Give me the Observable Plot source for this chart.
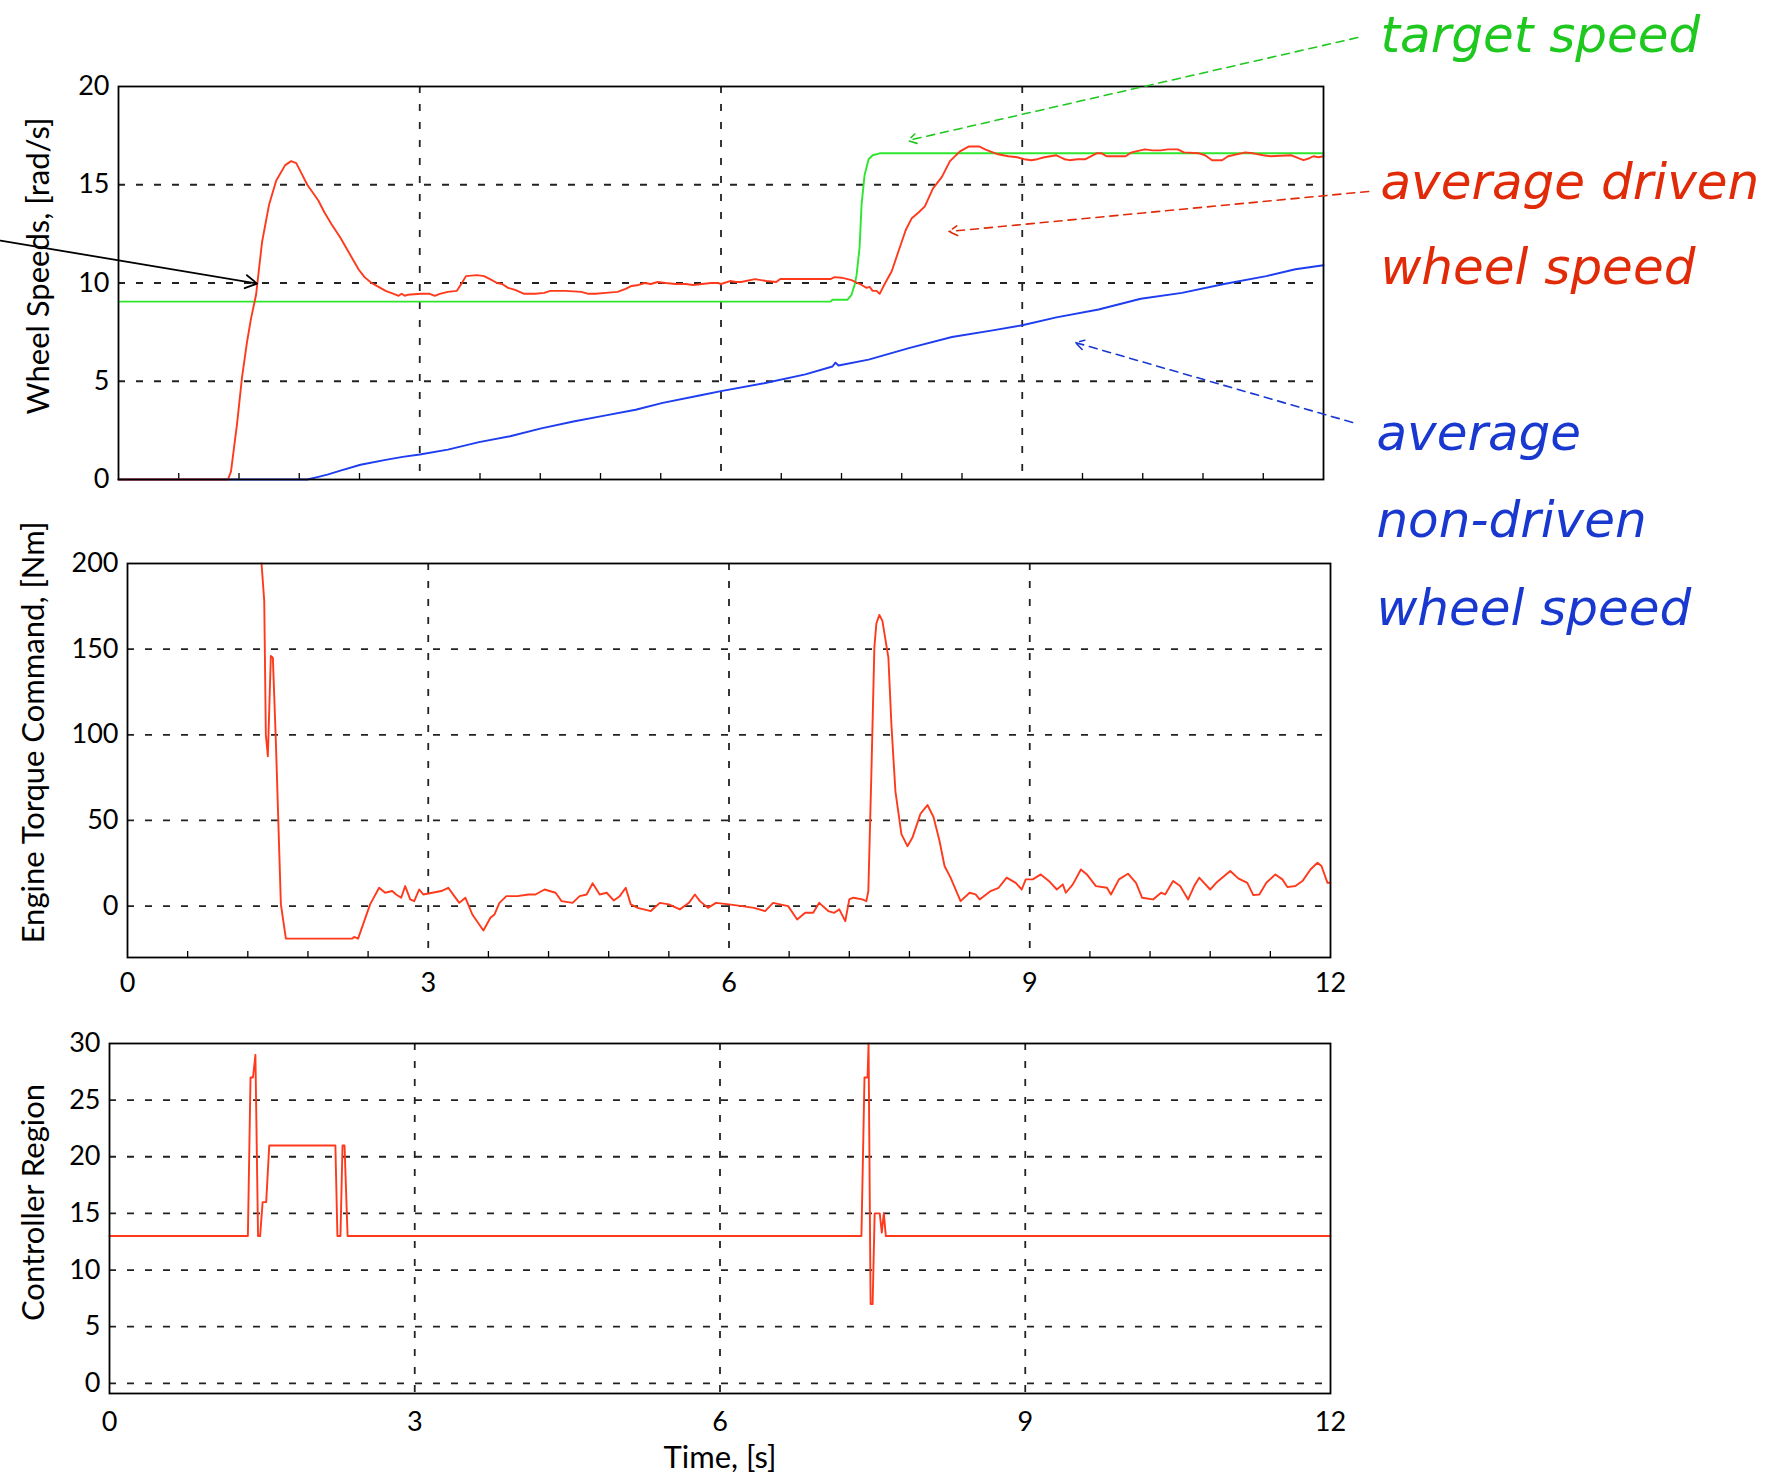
<!DOCTYPE html>
<html><head><meta charset="utf-8">
<script src="https://cdn.jsdelivr.net/npm/d3@7"></script>
<script src="https://cdn.jsdelivr.net/npm/@observablehq/plot@0.6"></script>
<style>
body{margin:0;background:#fff;}
#chart{position:relative;width:1766px;height:1476px;background:#fff;overflow:hidden;}
#chart svg{position:absolute;left:0;}
</style></head><body><div id="chart"></div>
<script>
// ---------- data (time [s], value) ----------
const targetSpeed = [[0,9.05],[7.09,9.05],[7.11,9.15],[7.26,9.15],[7.3,9.4],[7.33,9.9],[7.35,10.4],[7.38,11.8],[7.4,14.0],[7.43,15.5],[7.47,16.3],[7.51,16.5],[7.58,16.6],[12,16.6]];

const drivenSpeed = [[0,0],[1.09,0],[1.12,0.4],[1.18,2.8],[1.23,5.2],[1.28,7.0],[1.32,8.2],[1.37,9.4],[1.43,12.1],[1.50,14.0],[1.57,15.2],[1.66,16.0],[1.72,16.2],[1.77,16.1],[1.83,15.5],[1.88,15.0],[1.99,14.2],[2.05,13.6],[2.12,13.0],[2.21,12.3],[2.30,11.5],[2.39,10.7],[2.45,10.3],[2.52,10.0],[2.59,9.8],[2.66,9.6],[2.74,9.45],[2.79,9.35],[2.82,9.45],[2.85,9.35],[2.88,9.4],[3.01,9.45],[3.10,9.45],[3.15,9.35],[3.2,9.45],[3.28,9.55],[3.37,9.6],[3.42,10.0],[3.46,10.35],[3.57,10.4],[3.64,10.35],[3.70,10.2],[3.77,10.0],[3.82,9.95],[3.88,9.75],[3.95,9.65],[4.04,9.45],[4.15,9.45],[4.24,9.5],[4.30,9.6],[4.45,9.6],[4.61,9.55],[4.68,9.45],[4.75,9.45],[4.85,9.5],[4.97,9.55],[5.05,9.7],[5.11,9.85],[5.18,9.9],[5.24,10.0],[5.3,9.95],[5.37,10.05],[5.45,10.0],[5.55,9.95],[5.65,9.95],[5.72,9.9],[5.81,9.95],[5.9,10.0],[5.97,10.0],[6.0,9.95],[6.09,10.1],[6.15,10.05],[6.2,10.05],[6.34,10.2],[6.45,10.1],[6.55,10.05],[6.59,10.2],[6.8,10.2],[7.09,10.2],[7.13,10.3],[7.2,10.27],[7.3,10.15],[7.36,10.0],[7.4,9.9],[7.45,9.75],[7.48,9.8],[7.51,9.6],[7.55,9.6],[7.58,9.45],[7.63,9.95],[7.7,10.6],[7.76,11.5],[7.84,12.7],[7.9,13.3],[7.97,13.6],[8.03,13.9],[8.11,14.8],[8.2,15.4],[8.28,16.2],[8.38,16.7],[8.47,16.95],[8.57,16.95],[8.63,16.8],[8.68,16.7],[8.76,16.55],[8.86,16.45],[8.95,16.4],[9.02,16.3],[9.09,16.25],[9.15,16.3],[9.22,16.4],[9.34,16.5],[9.38,16.4],[9.42,16.3],[9.47,16.25],[9.55,16.3],[9.63,16.3],[9.74,16.6],[9.79,16.6],[9.84,16.45],[10.03,16.45],[10.09,16.65],[10.22,16.8],[10.3,16.75],[10.38,16.75],[10.45,16.8],[10.55,16.8],[10.61,16.65],[10.76,16.6],[10.82,16.5],[10.89,16.25],[10.99,16.25],[11.05,16.45],[11.18,16.6],[11.22,16.65],[11.3,16.6],[11.4,16.5],[11.47,16.45],[11.68,16.5],[11.75,16.35],[11.8,16.25],[11.86,16.35],[11.9,16.45],[11.95,16.4],[12.0,16.45]];

const nonDrivenSpeed = [[0,0],[1.88,0],[1.98,0.12],[2.08,0.25],[2.21,0.45],[2.41,0.75],[2.66,1.0],[2.83,1.15],[3.0,1.27],[3.28,1.52],[3.59,1.9],[3.9,2.2],[4.21,2.6],[4.53,2.95],[4.84,3.25],[5.15,3.55],[5.42,3.9],[5.81,4.3],[6.0,4.5],[6.43,4.9],[6.84,5.35],[7.11,5.75],[7.14,5.95],[7.17,5.8],[7.47,6.1],[7.88,6.7],[8.3,7.25],[8.72,7.6],[9.0,7.85],[9.34,8.25],[9.76,8.65],[10.18,9.2],[10.59,9.5],[11.01,9.95],[11.43,10.35],[11.72,10.7],[12.0,10.9]];

const torqueCommand = [[1.337,200],[1.364,178],[1.38,100],[1.40,87.5],[1.43,146],[1.45,145],[1.48,96],[1.53,1],[1.58,-19],[2.24,-19],[2.26,-18],[2.3,-19],[2.35,-10.7],[2.42,1],[2.51,10.7],[2.57,7.8],[2.64,8.8],[2.68,6.8],[2.73,4.9],[2.77,11.7],[2.82,3.9],[2.86,2.9],[2.91,9.7],[2.95,6.8],[3.04,7.8],[3.13,8.8],[3.2,10.7],[3.26,5.8],[3.31,1.9],[3.37,4.9],[3.44,-4.9],[3.55,-14.2],[3.62,-6.8],[3.66,-4.9],[3.71,1.9],[3.78,5.8],[3.89,5.8],[4.0,6.8],[4.07,6.8],[4.16,9.7],[4.27,7.8],[4.33,2.9],[4.44,1.9],[4.51,5.8],[4.58,6.8],[4.64,13.3],[4.71,6.8],[4.78,7.8],[4.85,3.3],[4.91,5.8],[4.97,10.7],[5.02,1],[5.09,-1],[5.22,-2.9],[5.31,1.9],[5.4,1],[5.51,-1.9],[5.6,1.9],[5.66,6.8],[5.71,2.9],[5.79,-1],[5.87,1.9],[6.0,1],[6.13,0],[6.25,-1],[6.36,-2.9],[6.44,1.9],[6.59,0],[6.68,-7.8],[6.76,-3.9],[6.84,-3.9],[6.9,1.9],[6.99,-2.9],[7.05,-3.9],[7.1,-1.9],[7.16,-8.8],[7.2,3.9],[7.24,4.9],[7.33,3.9],[7.37,2.9],[7.39,8.8],[7.42,77],[7.45,151],[7.47,165],[7.5,170],[7.53,166.5],[7.59,145],[7.62,106],[7.66,67],[7.72,42],[7.78,35],[7.83,40],[7.91,53.9],[7.98,59],[8.04,52],[8.1,38],[8.15,23.4],[8.21,16.6],[8.31,2.9],[8.4,7.8],[8.46,6.8],[8.5,3.9],[8.61,8.8],[8.69,10.7],[8.77,16.6],[8.86,13.6],[8.92,9.7],[8.96,15.6],[9.03,15.6],[9.11,18.5],[9.2,14.2],[9.27,9.7],[9.33,12.7],[9.36,7.8],[9.43,12.7],[9.51,21.4],[9.57,18.5],[9.66,11.7],[9.77,10.7],[9.81,6.8],[9.89,15.6],[9.98,18.9],[10.06,13.6],[10.12,4.9],[10.23,3.9],[10.31,7.8],[10.35,6.8],[10.43,14.6],[10.5,11.7],[10.58,3.9],[10.64,11.7],[10.69,16.6],[10.8,9.7],[10.86,13.6],[11.0,20.5],[11.08,16.2],[11.17,13.6],[11.23,6.4],[11.29,6.8],[11.36,13.6],[11.45,18.5],[11.52,15.6],[11.57,11.1],[11.65,11.7],[11.72,14.6],[11.8,21.4],[11.87,25.3],[11.91,23.4],[11.97,13.6],[12.0,13.6]];

const controllerRegion = [[0,13],[1.36,13],[1.386,27],[1.41,27],[1.434,29],[1.46,13],[1.48,13],[1.505,16],[1.54,16],[1.57,21],[2.22,21],[2.24,13],[2.27,13],[2.29,21],[2.31,21],[2.34,13],[7.39,13],[7.42,27],[7.45,27],[7.46,30],[7.48,7],[7.5,7],[7.52,15],[7.57,15],[7.59,13.3],[7.61,15],[7.63,13],[12,13]];

// ticks and labels
const xTicks = [0,3,6,9,12];
const xGrid = [3,6,9];
const xMinor = [0.6,1.2,1.8,2.4,3.6,4.2,4.8,5.4,6.6,7.2,7.8,8.4,9.6,10.2,10.8,11.4];
const speedTicks = [0,5,10,15,20];
const speedGrid = [5,10,15];
const torqueTicks = [0,50,100,150,200];
const torqueGrid = [0,50,100,150];
const regionTicks = [0,5,10,15,20,25,30];
const regionGrid = [0,5,10,15,20,25];
const labels = {speed:"Wheel Speeds, [rad/s]", torque:"Engine Torque Command, [Nm]", region:"Controller Region", time:"Time, [s]"};

// annotations in the speed panel's data coordinates
const GREEN = "#1ec81e", RED = "#e02a08", BLUE = "#1838d0";
const notes = [
  {t:12.567, v:21.78, text:"target speed", color:GREEN},
  {t:12.567, v:14.25, text:"average driven", color:RED},
  {t:12.567, v:9.97, text:"wheel speed", color:RED},
  {t:12.527, v:1.48, text:"average", color:BLUE},
  {t:12.527, v:-2.95, text:"non-driven", color:BLUE},
  {t:12.527, v:-7.38, text:"wheel speed", color:BLUE}
];
const dashedArrows = [
  {t1:12.34, v1:22.49, t2:7.86, v2:17.25, color:GREEN},
  {t1:12.45, v1:14.66, t2:8.27, v2:12.62, color:RED},
  {t1:12.29, v1:2.9, t2:9.53, v2:6.97, color:BLUE}
];
const pointerArrow = [{t1:-1.175, v1:12.16, t2:1.38, v2:9.97}];

// ---------- drawing ----------
const LINE_RED = "#ff3a1c", LINE_GREEN = "#2ee62e", LINE_BLUE = "#1e3cf0";
const FONT = "Lato, 'Open Sans', sans-serif";
const gridStyle = {stroke:"#222", strokeOpacity:1, strokeWidth:1.8, strokeDasharray:"7,11"};
const svgStyle = {background:"transparent", overflow:"visible", fontFamily:FONT, color:"black"};
const X = d => d[0], Y = d => d[1];
const TICK_FS = 27, LABEL_FS = 31, LW = 1.9;

const speedPlot = Plot.plot({
  width:1766, height:660, marginLeft:118, marginRight:443, marginTop:86, marginBottom:181,
  style: svgStyle,
  x:{domain:[0,12], axis:null}, y:{domain:[0,20], axis:null}, color:{type:"identity"},
  marks:[
    Plot.gridX(xGrid, gridStyle),
    Plot.gridY(speedGrid, gridStyle),
    Plot.ruleX(xMinor, {x:d=>d, insetTop:387, stroke:"black", strokeWidth:1.3}),
    Plot.axisY(speedTicks, {tickSize:0, tickPadding:9, fontSize:TICK_FS}),
    Plot.line(targetSpeed, {x:X, y:Y, stroke:LINE_GREEN, strokeWidth:LW}),
    Plot.line(nonDrivenSpeed, {x:X, y:Y, stroke:LINE_BLUE, strokeWidth:LW}),
    Plot.line(drivenSpeed, {x:X, y:Y, stroke:LINE_RED, strokeWidth:LW}),
    Plot.frame({stroke:"black", strokeWidth:1.8}),
    Plot.text([labels.speed], {frameAnchor:"left", textAnchor:"middle", rotate:-90, dx:-79, dy:-17, fontSize:LABEL_FS}),
    Plot.arrow(dashedArrows, {x1:"t1", y1:"v1", x2:"t2", y2:"v2", stroke:"color", strokeWidth:1.6, strokeDasharray:"8,6", headLength:9}),
    Plot.arrow(pointerArrow, {x1:"t1", y1:"v1", x2:"t2", y2:"v2", stroke:"black", strokeWidth:1.8, headLength:11}),
    Plot.text(notes, {x:"t", y:"v", text:"text", fill:"color", textAnchor:"start", lineAnchor:"bottom", fontSize:50, fontStyle:"italic", fontFamily:"'DejaVu Sans', sans-serif"})
  ]
});

const torquePlot = Plot.plot({
  width:1766, height:520, marginLeft:127, marginRight:436, marginTop:73, marginBottom:53,
  style: svgStyle,
  x:{domain:[0,12], axis:null}, y:{domain:[-30,200], axis:null},
  marks:[
    Plot.gridX(xGrid, gridStyle),
    Plot.gridY(torqueGrid, gridStyle),
    Plot.ruleX(xMinor, {x:d=>d, insetTop:388, stroke:"black", strokeWidth:1.3}),
    Plot.axisY(torqueTicks, {tickSize:0, tickPadding:9, fontSize:TICK_FS}),
    Plot.axisX(xTicks, {tickSize:0, tickPadding:15, fontSize:TICK_FS}),
    Plot.line(torqueCommand, {x:X, y:Y, stroke:LINE_RED, strokeWidth:LW}),
    Plot.frame({stroke:"black", strokeWidth:1.8}),
    Plot.text([labels.torque], {frameAnchor:"left", textAnchor:"middle", rotate:-90, dx:-93, dy:-28, fontSize:LABEL_FS})
  ]
});

const regionPlot = Plot.plot({
  width:1766, height:466, marginLeft:109, marginRight:436, marginTop:33, marginBottom:83,
  style: svgStyle,
  x:{domain:[0,12], axis:null}, y:{domain:[-0.9,30], axis:null},
  marks:[
    Plot.gridX(xGrid, gridStyle),
    Plot.gridY(regionGrid, gridStyle),
    Plot.axisY(regionTicks, {tickSize:0, tickPadding:9, fontSize:TICK_FS}),
    Plot.axisX(xTicks, {tickSize:0, tickPadding:18, fontSize:TICK_FS}),
    Plot.line(controllerRegion, {x:X, y:Y, stroke:LINE_RED, strokeWidth:LW}),
    Plot.frame({stroke:"black", strokeWidth:1.8}),
    Plot.text([labels.region], {frameAnchor:"left", textAnchor:"middle", rotate:-90, dx:-75, dy:-16, fontSize:LABEL_FS}),
    Plot.text([labels.time], {frameAnchor:"bottom", dy:74, fontSize:LABEL_FS})
  ]
});

const chart = document.getElementById("chart");
torquePlot.style.top = "490px";
regionPlot.style.top = "1010px";
speedPlot.style.top = "0px";
chart.append(torquePlot, regionPlot, speedPlot);
</script></body></html>
